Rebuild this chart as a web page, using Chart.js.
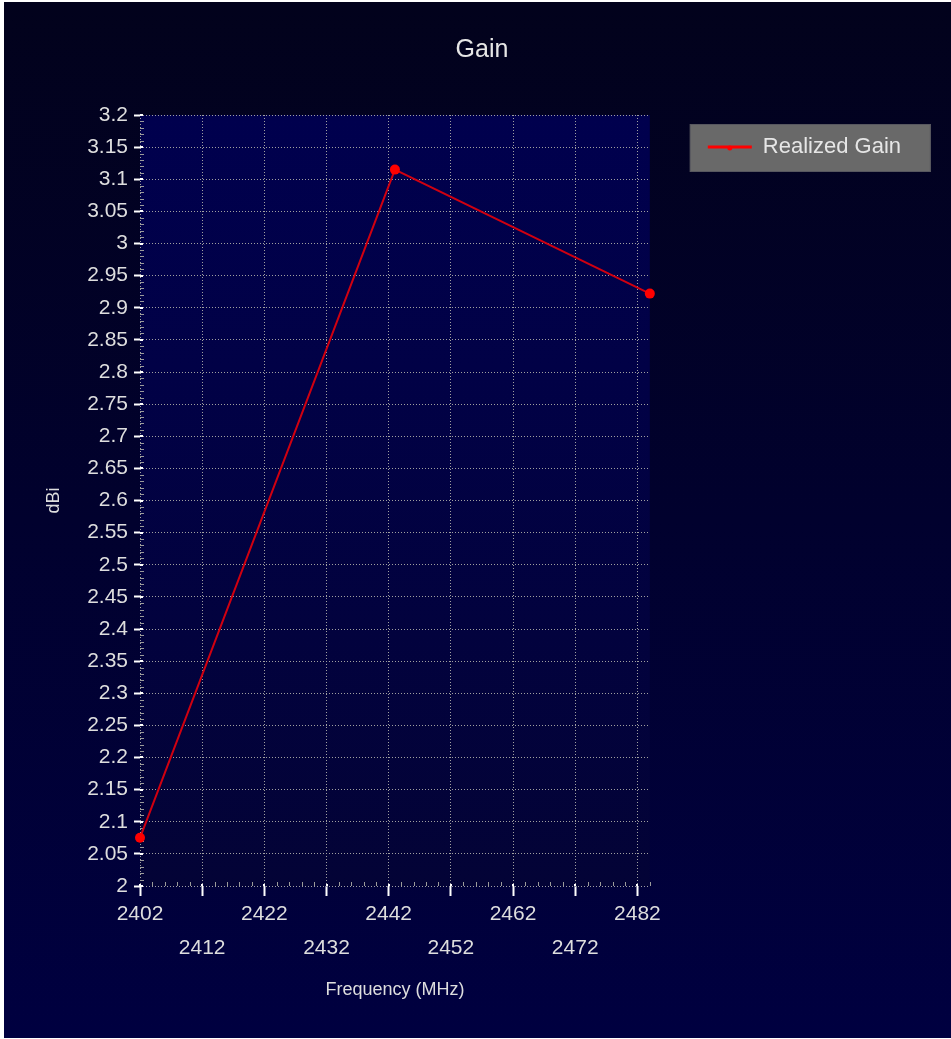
<!DOCTYPE html>
<html>
<head>
<meta charset="utf-8">
<title>Gain</title>
<script src="https://cdn.jsdelivr.net/npm/chart.js@4/dist/chart.umd.min.js"></script>
<style>
  html, body { margin: 0; padding: 0; background: #ffffff; }
  #panel {
    position: absolute; left: 4px; top: 2px; width: 947px; height: 1036px;
    background: linear-gradient(to bottom, #02021c, #000040);
  }
</style>
</head>
<body>
<div id="panel"><canvas id="gainChart"></canvas></div>
<script>
// data
const freq = [2402, 2443, 2484];          // MHz
const realizedGain = [2.075, 3.115, 2.922]; // dBi

// tick labels
const xTicks = [2402, 2412, 2422, 2432, 2442, 2452, 2462, 2472, 2482];
const yTicks = [2, 2.05, 2.1, 2.15, 2.2, 2.25, 2.3, 2.35, 2.4, 2.45, 2.5, 2.55, 2.6,
                2.65, 2.7, 2.75, 2.8, 2.85, 2.9, 2.95, 3, 3.05, 3.1, 3.15, 3.2];

const FONT = "'Liberation Sans', Arial, sans-serif";
const textColor = "#dedede";

// plot background, legend box, small axis ticks
const decor = {
    id: "decor",
    beforeDraw(chart) {
        const { ctx, chartArea: a } = chart;
        ctx.save();
        const g = ctx.createLinearGradient(0, a.top, 0, a.bottom);
        g.addColorStop(0, "#00004e");
        g.addColorStop(1, "#030336");
        ctx.fillStyle = g;
        ctx.fillRect(a.left, a.top, a.right - a.left, a.bottom - a.top);

        // legend background
        const lx = a.right + 40, ly = 122;
        ctx.fillStyle = "#696969";
        ctx.fillRect(lx, ly, 241, 48);
        ctx.strokeStyle = "#57575f";
        ctx.lineWidth = 1;
        ctx.strokeRect(lx + 0.5, ly + 0.5, 240, 47);
        ctx.restore();
    },
    beforeDatasetsDraw(chart) {
        const { ctx, chartArea: a, scales: { x, y } } = chart;
        ctx.save();
        ctx.strokeStyle = "#9a9a9a";
        ctx.lineWidth = 1;
        ctx.beginPath();
        for (let i = 1; i < 120; i++) {
            if (i % 5 === 0) continue;
            const py = Math.round(y.getPixelForValue(2 + i * 0.01)) + 0.5;
            ctx.moveTo(a.left, py);
            ctx.lineTo(a.left + 4, py);
        }
        for (let f = 2404; f <= 2484; f += 2) {
            if ((f - 2402) % 10 === 0) continue;
            const px = Math.round(x.getPixelForValue(f)) + 0.5;
            ctx.moveTo(px, a.bottom);
            ctx.lineTo(px, a.bottom - 4);
        }
        ctx.stroke();

        ctx.strokeStyle = "#ffffff";
        ctx.lineWidth = 2;
        ctx.beginPath();
        yTicks.forEach(v => {
            const py = Math.round(y.getPixelForValue(v));
            ctx.moveTo(a.left, py);
            ctx.lineTo(a.left + 3, py);
        });
        xTicks.forEach(v => {
            const px = Math.round(x.getPixelForValue(v));
            ctx.moveTo(px, a.bottom);
            ctx.lineTo(px, a.bottom - 2);
        });
        ctx.stroke();
        ctx.restore();
    },
    afterDraw(chart) {
        // small marker on the legend line
        const legend = chart.legend;
        if (!legend || !legend.legendHitBoxes || !legend.legendHitBoxes.length) return;
        const hb = legend.legendHitBoxes[0];
        const { ctx } = chart;
        ctx.save();
        ctx.fillStyle = "#ff0000";
        ctx.beginPath();
        ctx.arc(hb.left + 22, hb.top + 12, 2.5, 0, Math.PI * 2);
        ctx.fill();
        ctx.restore();
    }
};

const gainChart = new Chart(document.getElementById("gainChart"), {
    type: "line",
    data: {
        datasets: [
            {
                label: "Realized Gain",
                data: freq.map((f, i) => ({ x: f, y: realizedGain[i] })),
                borderColor: "#d00010",
                borderWidth: 2,
                backgroundColor: "#ff0000",
                pointBackgroundColor: "#ff0000",
                pointBorderWidth: 0,
                pointRadius: 5,
                tension: 0,
                clip: false,
            }
        ]
    },
    options: {
        responsive: true,
        maintainAspectRatio: false,
        animation: false,
        layout: { padding: { left: 49, right: 40, top: 0, bottom: 37 } },
        plugins: {
            title: {
                display: true,
                text: "Gain",
                color: "#e6e6e6",
                font: { family: FONT, size: 25, weight: "normal", lineHeight: 1.2 },
                padding: { top: 33, bottom: 50 }
            },
            legend: {
                position: "right",
                align: "start",
                maxWidth: 400,
                title: { display: true, text: " ", font: { size: 10, lineHeight: 1 }, padding: { top: 66, bottom: 0 } },
                labels: {
                    color: "#e6e6e6",
                    font: { family: FONT, size: 22 },
                    usePointStyle: true,
                    pointStyle: "line",
                    pointStyleWidth: 44,
                    padding: 58,
                    generateLabels(chart) {
                        const items = Chart.defaults.plugins.legend.labels.generateLabels(chart);
                        items.forEach(it => { it.strokeStyle = "#ff0000"; it.lineWidth = 3; });
                        return items;
                    }
                }
            },
            tooltip: { enabled: false }
        },
        scales: {
            x: {
                type: "linear",
                min: 2402,
                max: 2484,
                afterBuildTicks(scale) { scale.ticks = xTicks.map(v => ({ value: v })); },
                afterFit(scale) { scale.height = 115; },
                ticks: {
                    color: textColor,
                    font: { family: FONT, size: 21, lineHeight: 34 / 21 },
                    padding: 1,
                    autoSkip: false,
                    maxRotation: 0,
                    minRotation: 0,
                    callback: (v, i) => i % 2 === 0 ? [String(v), ""] : ["", String(v)]
                },
                grid: {
                    color: "#a0a0a0",
                    lineWidth: 1,
                    tickColor: "#ffffff",
                    tickWidth: 2,
                    tickLength: 10
                },
                border: { display: false, dash: [1, 2] },
                title: {
                    display: true,
                    text: "Frequency (MHz)",
                    color: textColor,
                    font: { family: FONT, size: 18, lineHeight: 1.2 },
                    padding: { top: 0, bottom: 0 }
                }
            },
            y: {
                min: 2,
                max: 3.2,
                afterBuildTicks(scale) { scale.ticks = yTicks.map(v => ({ value: v })); },
                afterFit(scale) { scale.width = 87; },
                ticks: {
                    color: textColor,
                    font: { family: FONT, size: 21 },
                    padding: 6,
                    autoSkip: false,
                    callback: v => String(v)
                },
                grid: {
                    color: "#a0a0a0",
                    lineWidth: 1,
                    tickColor: "#ffffff",
                    tickWidth: 2,
                    tickLength: 6
                },
                border: { display: false, dash: [1, 2] },
                title: {
                    display: true,
                    text: "dBi",
                    color: textColor,
                    font: { family: FONT, size: 18, lineHeight: 1.2 },
                    padding: { top: -10, bottom: 0 }
                }
            }
        }
    },
    plugins: [decor]
});
</script>
</body>
</html>
